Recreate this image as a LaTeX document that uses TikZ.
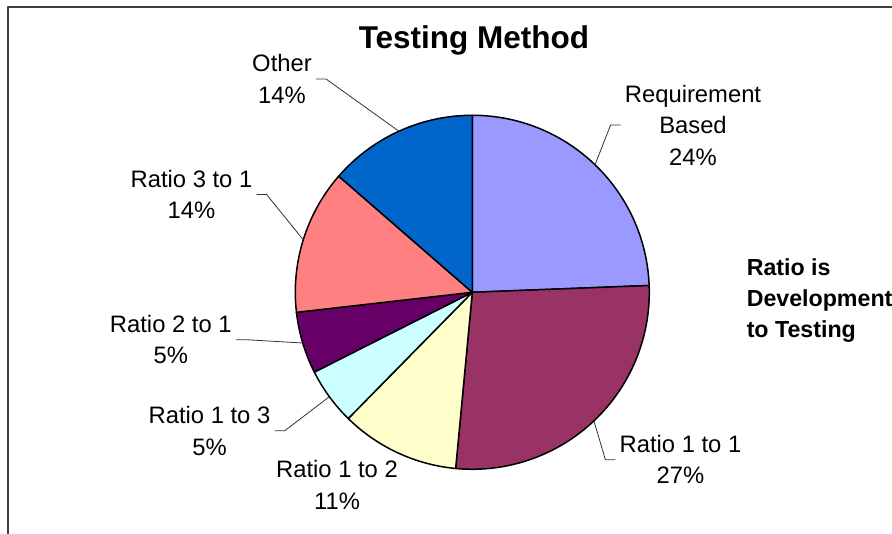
\documentclass[tikz,border=0pt]{standalone}
\usepackage{fontspec}
\setmainfont{Liberation Sans}
\definecolor{reqblue}{HTML}{9999FF}
\definecolor{plum}{HTML}{993366}
\definecolor{cream}{HTML}{FFFFCC}
\definecolor{paleaqua}{HTML}{CCFFFF}
\definecolor{darkplum}{HTML}{660066}
\definecolor{coralpink}{HTML}{FF8080}
\definecolor{otherblue}{HTML}{0066CC}

\begin{document}
\begin{tikzpicture}[x=1pt,y=1pt,line width=1.5pt,line join=round,
  lbl/.style={font=\fontsize{23.8}{31.5}\selectfont,align=center,inner xsep=3.5pt,inner ysep=0pt},
  leader/.style={line width=0.8pt,black!80}]
  \clip (-472.3,-241.7) rectangle (419.7,292.3);
  \draw[line width=1.3pt,black!75] (-464.3,-260) |- (440,285.3);
  % slices, clockwise from the top
  \foreach \a/\b/\c in {2.2/90/reqblue, -95.4/2.2/plum, -134.5/-95.4/cream,
      -153.2/-134.5/paleaqua, -173.5/-153.2/darkplum, 139/186.5/coralpink, 90/139/otherblue}
    \filldraw[fill=\c] (0,0) -- (\a:177) arc (\a:\b:177) -- cycle;
  % rim points for the leaders
  \coordinate (pReq) at (46.1:177);
  \coordinate (pOneOne) at (-46.6:177);
  \coordinate (pOneThree) at (-143.85:177);
  \coordinate (pTwoOne) at (-163.35:177);
  \coordinate (pThreeOne) at (162.75:177);
  \coordinate (pOther) at (114.5:177);
  \node[font=\bfseries\fontsize{31.5}{36}\selectfont,anchor=base] (title) at (1.7,243.8) {Testing Method};
  \node[lbl] (req) at (220.7,167.3) {Requirement\\Based\\24\%};
  \node[lbl] (oneone) at (208.2,-167.4) {Ratio 1 to 1\\27\%};
  \node[lbl] (onetwo) at (-135.3,-192.7) {Ratio 1 to 2\\11\%};
  \node[lbl] (onethree) at (-262.8,-138.5) {Ratio 1 to 3\\5\%};
  \node[lbl] (twoone) at (-301.5,-47.4) {Ratio 2 to 1\\5\%};
  \node[lbl] (threeone) at (-280.8,97.8) {Ratio 3 to 1\\14\%};
  \node[lbl] (other) at (-190.3,213.3) {Other\\14\%};
  \node[font=\bfseries\fontsize{23.2}{31}\selectfont,align=left,anchor=west,inner sep=0pt] (note)
    at (273.7,-8.7) {Ratio is\\Development\\to Testing};
  \draw[leader] (req.west) -- ++(-10,0) -- (pReq);
  \draw[leader] (oneone.west) -- ++(-10,0) -- (pOneOne);
  \draw[leader] (onethree.east) -- ++(10,0) -- (pOneThree);
  \draw[leader] (twoone.east) -- ++(10,0) -- (pTwoOne);
  \draw[leader] (threeone.east) -- ++(10,0) -- (pThreeOne);
  \draw[leader] (other.east) -- ++(10,0) -- (pOther);
\end{tikzpicture}
\end{document}
